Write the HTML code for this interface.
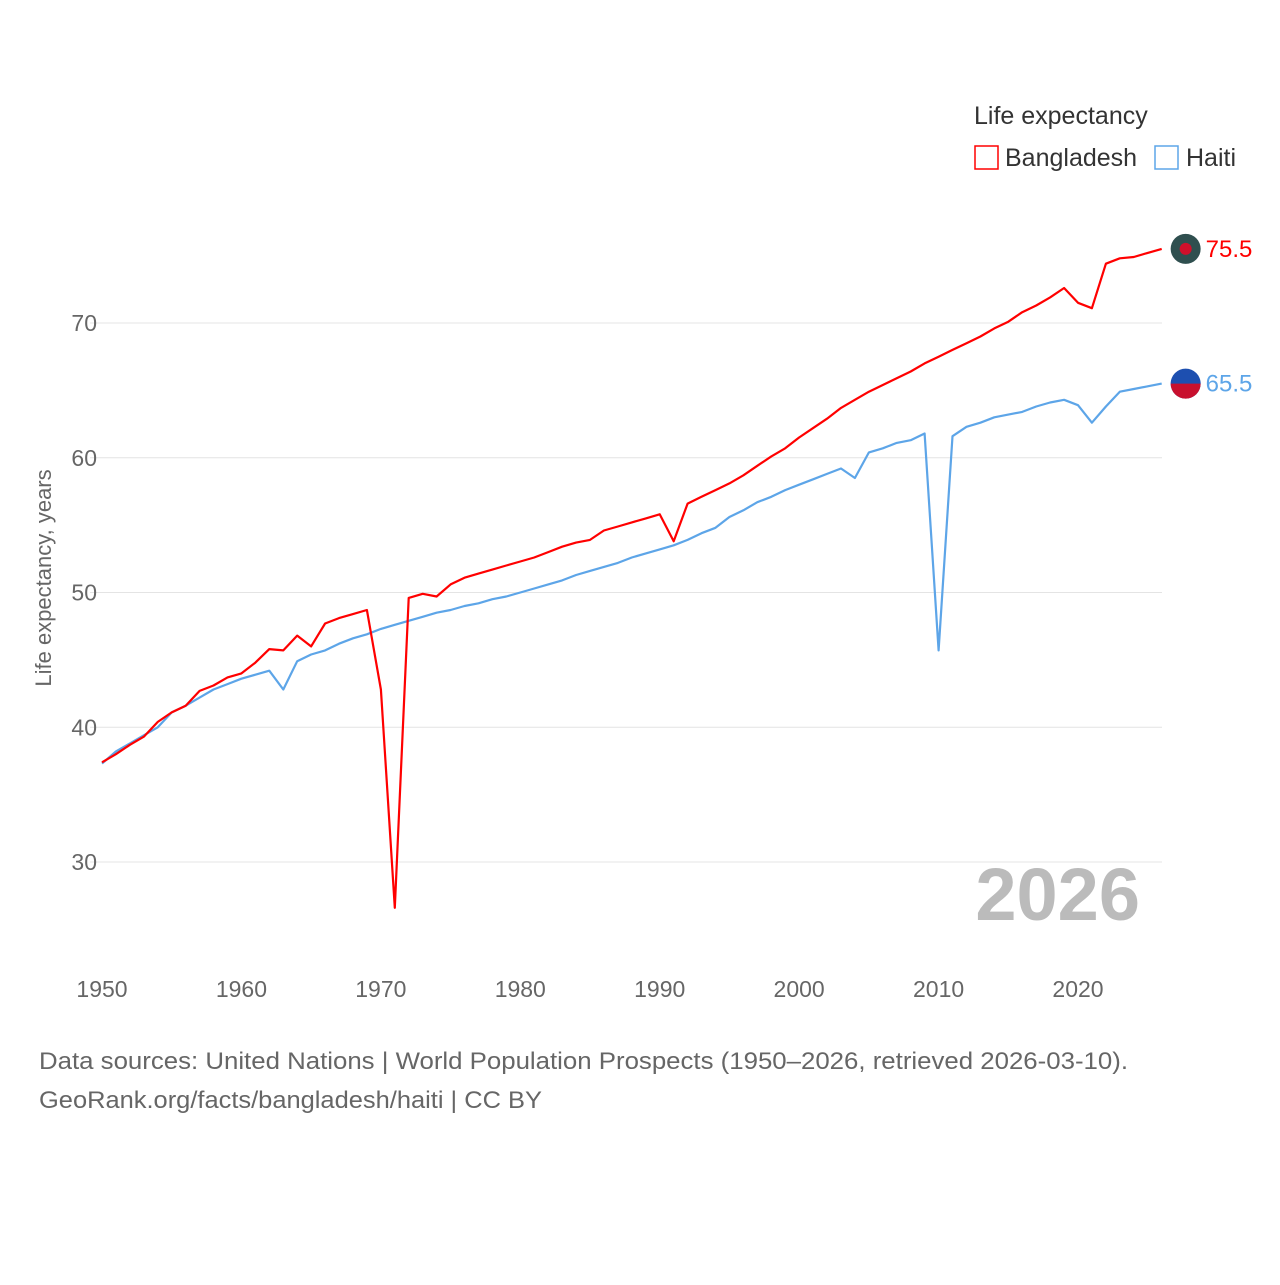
<!DOCTYPE html>
<html><head><meta charset="utf-8"><style>
body{margin:0;background:#fff;font-family:"Liberation Sans",sans-serif}
</style></head><body>
<svg width="1280" height="1280" viewBox="0 0 1280 1280" xmlns="http://www.w3.org/2000/svg" style="font-family:'Liberation Sans',sans-serif">
<g id="grid"></g>
<g id="ylabels"></g>
<g id="xlabels"></g>
<text transform="translate(51,578) rotate(-90)" text-anchor="middle" font-size="22" fill="#666">Life expectancy, years</text>
<text x="1140" y="920" text-anchor="end" font-size="74" font-weight="bold" fill="#bbb">2026</text>
<g id="series"></g>
<g>
<text x="974" y="124" font-size="25" fill="#333">Life expectancy</text>
<rect x="975" y="146" width="23" height="23" fill="none" stroke="#f00" stroke-width="1.5"/>
<text x="1005" y="166" font-size="25" fill="#333">Bangladesh</text>
<rect x="1155" y="146" width="23" height="23" fill="none" stroke="#5da5e8" stroke-width="1.5"/>
<text x="1186" y="166" font-size="25" fill="#333">Haiti</text>
</g>
<text x="39" y="1069" font-size="24" fill="#666" textLength="1089" lengthAdjust="spacingAndGlyphs">Data sources: United Nations | World Population Prospects (1950–2026, retrieved 2026-03-10).</text>
<text x="39" y="1108" font-size="24" fill="#666" textLength="503" lengthAdjust="spacingAndGlyphs">GeoRank.org/facts/bangladesh/haiti | CC BY</text>
</svg>
<script>
const years=[];for(let y=1950;y<=2026;y++)years.push(y);
const yTicks=[30,40,50,60,70];
const xTicks=[1950,1960,1970,1980,1990,2000,2010,2020];
const bangladesh=[37.4,38.0,38.7,39.3,40.4,41.1,41.6,42.7,43.1,43.7,44.0,44.8,45.8,45.7,46.8,46.0,47.7,48.1,48.4,48.7,42.8,26.6,49.6,49.9,49.7,50.6,51.1,51.4,51.7,52.0,52.3,52.6,53.0,53.4,53.7,53.9,54.6,54.9,55.2,55.5,55.8,53.8,56.6,57.1,57.6,58.1,58.7,59.4,60.1,60.7,61.5,62.2,62.9,63.7,64.3,64.9,65.4,65.9,66.4,67.0,67.5,68.0,68.5,69.0,69.6,70.1,70.8,71.3,71.9,72.6,71.5,71.1,74.4,74.8,74.9,75.2,75.5];
const haiti=[37.3,38.2,38.8,39.4,40.0,41.1,41.6,42.2,42.8,43.2,43.6,43.9,44.2,42.8,44.9,45.4,45.7,46.2,46.6,46.9,47.3,47.6,47.9,48.2,48.5,48.7,49.0,49.2,49.5,49.7,50.0,50.3,50.6,50.9,51.3,51.6,51.9,52.2,52.6,52.9,53.2,53.5,53.9,54.4,54.8,55.6,56.1,56.7,57.1,57.6,58.0,58.4,58.8,59.2,58.5,60.4,60.7,61.1,61.3,61.8,45.7,61.6,62.3,62.6,63.0,63.2,63.4,63.8,64.1,64.3,63.9,62.6,63.8,64.9,65.1,65.3,65.5];
const NS="http://www.w3.org/2000/svg";
const X=y=>102+(y-1950)*(1078-102)/70;
const Y=v=>323+(70-v)*(862-323)/40;
function mk(tag,attrs,parent,text){const e=document.createElementNS(NS,tag);for(const k in attrs)e.setAttribute(k,attrs[k]);if(text!==undefined)e.textContent=text;parent.appendChild(e);return e;}
const grid=document.getElementById('grid'),yl=document.getElementById('ylabels'),xl=document.getElementById('xlabels'),ser=document.getElementById('series');
yTicks.forEach(t=>{
 const l=mk('line',{x1:90,x2:1162,y1:Y(t),y2:Y(t),stroke:'#e4e4e4','stroke-width':1},grid);
 
 
 const tx=mk('text',{x:97,y:Y(t)+8,'text-anchor':'end','font-size':23,fill:'#666'},yl,String(t));
 
 
});
xTicks.forEach(t=>{
 const tx=mk('text',{x:X(t),y:997,'text-anchor':'middle','font-size':23,fill:'#666'},xl,String(t));
 
 
});
function line(data,color,name){
 const d=data.map((v,i)=>(i?'L':'M')+X(years[i]).toFixed(1)+','+Y(v).toFixed(1)).join('');
 const p=mk('path',{d:d,fill:'none',stroke:color,'stroke-width':2.2,'stroke-linejoin':'round'},ser);
 
 
 const last=data[data.length-1],cx=X(2026)+24,cy=Y(last);
 const c=mk('circle',{cx:cx,cy:cy,r:15,fill:name==='bangladesh'?'#2f4f4f':'#1d4fb0'},ser);
 
 
 if(name==='bangladesh'){const cc=mk('circle',{cx:cx,cy:cy,r:6,fill:'#d0102b'},ser);}
 else{const h=mk('path',{d:`M${cx-15},${cy} A15,15 0 0 0 ${cx+15},${cy} Z`,fill:'#c8102e'},ser);}
 const t=mk('text',{x:cx+20,y:cy+8,'font-size':24,fill:color},ser,last.toFixed(1));
 
 
}
line(haiti,'#5da5e8','haiti');
line(bangladesh,'#f00','bangladesh');
</script>
</body></html>
